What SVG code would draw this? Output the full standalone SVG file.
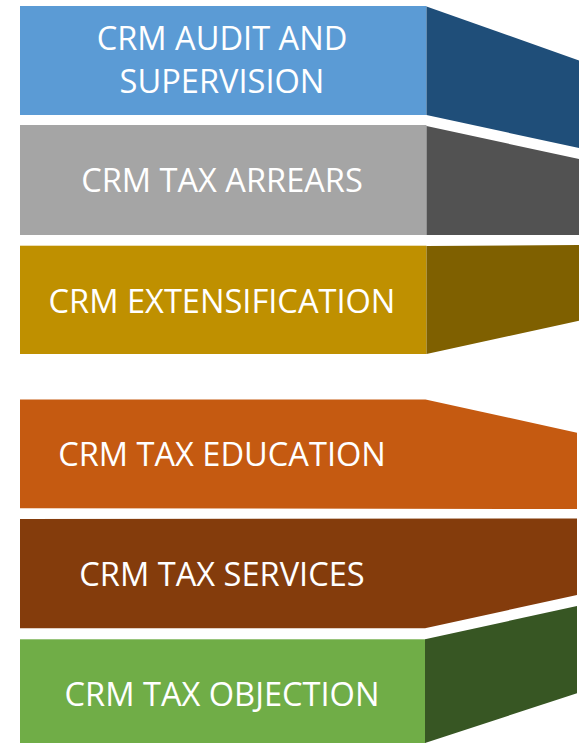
<svg xmlns="http://www.w3.org/2000/svg" width="580" height="744" viewBox="0 0 580 744">
<style>
text{font-family:"Open Sans","Liberation Sans",sans-serif;font-size:32.6px;fill:#FFFFFF;text-anchor:middle}
</style>
<rect width="580" height="744" fill="#FFFFFF"/>
<g id="audit">
<rect x="20" y="6" width="406.5" height="109" fill="#5B9BD5"/>
<polygon points="426.5,6.5 579,60.5 579,148 426.5,115" fill="#1F4E79"/>
<text x="222" y="50">CRM AUDIT AND</text>
<text x="222" y="93.3">SUPERVISION</text>
</g>
<g id="arrears">
<rect x="20" y="125" width="406.5" height="110" fill="#A5A5A5"/>
<polygon points="426.5,126 579,159 579,235 426.5,235" fill="#525252"/>
<text x="222" y="192.3">CRM TAX ARREARS</text>
</g>
<g id="extensification">
<rect x="20" y="245.7" width="406.5" height="108.3" fill="#BF9000"/>
<polygon points="426.5,246 579,245 579,320.7 426.5,354" fill="#7F6000"/>
<text x="222" y="313.3">CRM EXTENSIFICATION</text>
</g>
<g id="education">
<polygon points="20,399.5 425.5,399.5 577,432.7 577,509 20,508.3" fill="#C55A11"/>
<text x="222" y="465.7">CRM TAX EDUCATION</text>
</g>
<g id="services">
<polygon points="20,519 577,518.5 577,595 425,628.3 20,628.3" fill="#843C0C"/>
<text x="222" y="585.7">CRM TAX SERVICES</text>
</g>
<g id="objection">
<rect x="20" y="639.3" width="405.5" height="103.7" fill="#70AD47"/>
<polygon points="425,639.3 577,606 577,693.3 425,743" fill="#375623"/>
<text x="222" y="705.7">CRM TAX OBJECTION</text>
</g>
</svg>
